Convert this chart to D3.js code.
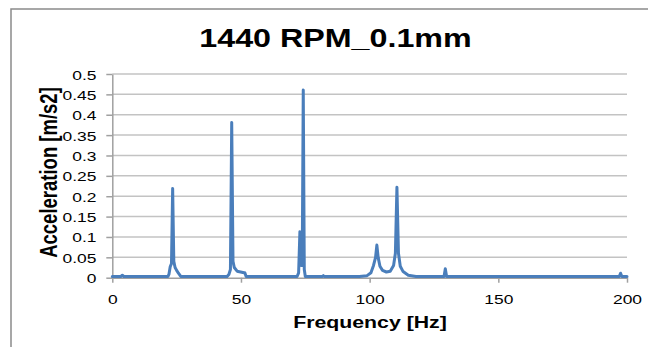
<!DOCTYPE html>
<html>
<head>
<meta charset="utf-8">
<script src="https://cdn.jsdelivr.net/npm/d3@7"></script>
<style>
  body { margin: 0; background: #fff; }
  text { font-family: "Liberation Sans", Arial, sans-serif; fill: #000; }
</style>
</head>
<body>
<div id="chart"></div>
<script>
// values
var titleText = "1440 RPM_0.1mm";
var xLabel = "Frequency [Hz]";
var yLabel = "Acceleration [m/s2]";

var xTicks = [0, 50, 100, 150, 200];
var xTickLabels = ["0", "50", "100", "150", "200"];
var yTicks = [0, 0.05, 0.1, 0.15, 0.2, 0.25, 0.3, 0.35, 0.4, 0.45, 0.5];
var yTickLabels = ["0", "0.05", "0.1", "0.15", "0.2", "0.25", "0.3", "0.35", "0.4", "0.45", "0.5"];

var freq = [0, 3.3, 3.9, 4.5, 21.6, 22.0, 22.5, 23.0, 23.45, 23.9, 24.4, 25.0, 25.7, 26.6,
  44.6, 45.3, 45.9, 46.4, 46.9, 47.4, 48.5, 51.2, 51.5, 52.0,
  71.8, 72.4, 72.9, 73.3, 73.8, 74.2, 74.6, 75.0, 81.7, 82.0, 82.3,
  96.0, 99.0, 100.5, 101.5, 102.3, 102.8, 103.3, 104.0, 105.0, 106.5, 108.0, 109.3, 110.0, 110.6,
  111.2, 111.9, 113.0, 115.0, 118.0, 128.9, 129.4, 129.9, 197.0, 197.5, 198.0, 200];
var accel = [0.003, 0.003, 0.006, 0.003, 0.003, 0.008, 0.027, 0.035, 0.219, 0.04, 0.025, 0.018, 0.011, 0.003,
  0.003, 0.008, 0.02, 0.381, 0.04, 0.025, 0.016, 0.012, 0.012, 0.003,
  0.003, 0.012, 0.113, 0.03, 0.03, 0.461, 0.02, 0.003, 0.003, 0.005, 0.003,
  0.003, 0.005, 0.012, 0.03, 0.05, 0.08, 0.05, 0.028, 0.018, 0.014, 0.016, 0.03, 0.06, 0.222,
  0.06, 0.028, 0.015, 0.006, 0.003, 0.003, 0.022, 0.003, 0.003, 0.011, 0.003, 0.003];

var W = 648, H = 347;
var stretch = 1.29; // the source picture is widened, text too

var svg = d3.select("#chart").append("svg")
  .attr("width", W).attr("height", H);

// outer chart border (only top and left are inside the picture)
svg.append("rect")
  .attr("x", 11).attr("y", 9)
  .attr("width", 700).attr("height", 400)
  .attr("fill", "#fff")
  .attr("stroke", "#8a8a8a")
  .attr("stroke-width", 1.5);

var x = d3.scaleLinear().domain([0, 200]).range([112.3, 627]);
var y = d3.scaleLinear().domain([0, 0.5]).range([277.7, 74]);

// gridlines
svg.append("g").selectAll("line")
  .data(yTicks.slice(1))
  .enter().append("line")
  .attr("x1", x(0)).attr("x2", x(200))
  .attr("y1", function(d) { return y(d); })
  .attr("y2", function(d) { return y(d); })
  .attr("stroke", "#c3c3c3")
  .attr("stroke-width", 1.5);

// y axis
var yAxis = svg.append("g")
  .attr("transform", "translate(" + x(0) + ",0)")
  .call(d3.axisLeft(y).tickValues(yTicks).tickSize(6).tickSizeOuter(0)
    .tickFormat(function(d, i) { return yTickLabels[i]; }));
yAxis.select(".domain").attr("stroke", "#a0a0a0").attr("stroke-width", 1.5);
yAxis.selectAll(".tick line").attr("stroke", "#a0a0a0").attr("stroke-width", 1.5);
yAxis.selectAll(".tick text")
  .attr("x", null).attr("dy", null)
  .attr("transform", "translate(-15.8,5) scale(" + stretch + ",1)")
  .style("font-size", "13.5px")
  .style("font-family", "Liberation Sans, Arial, sans-serif")
  .attr("fill", "#000");

// x axis
var xAxis = svg.append("g")
  .attr("transform", "translate(0," + y(0) + ")")
  .call(d3.axisBottom(x).tickValues(xTicks).tickSize(5).tickSizeOuter(0)
    .tickFormat(function(d, i) { return xTickLabels[i]; }));
xAxis.select(".domain").attr("stroke", "#a0a0a0").attr("stroke-width", 1.5);
xAxis.selectAll(".tick line").attr("stroke", "#a0a0a0").attr("stroke-width", 1.5);
xAxis.selectAll(".tick text")
  .attr("y", null).attr("dy", null)
  .attr("transform", "translate(0,26.3) scale(" + stretch + ",1)")
  .style("font-size", "13.5px")
  .style("font-family", "Liberation Sans, Arial, sans-serif")
  .attr("fill", "#000");

// spectrum line
var pts = freq.map(function(f, i) { return [f, accel[i]]; });
var line = d3.line()
  .x(function(d) { return x(d[0]); })
  .y(function(d) { return y(d[1]); });

svg.append("path")
  .datum(pts)
  .attr("d", line)
  .attr("fill", "none")
  .attr("stroke", "#4a7ebb")
  .attr("stroke-width", 3)
  .attr("stroke-linejoin", "round")
  .attr("stroke-linecap", "round");

// title
svg.append("text")
  .attr("transform", "translate(335.5,47.3) scale(" + stretch + ",1)")
  .attr("text-anchor", "middle")
  .style("font-size", "25px")
  .style("font-weight", "bold")
  .text(titleText);

// axis titles
svg.append("text")
  .attr("transform", "translate(370,328.3) scale(" + stretch + ",1)")
  .attr("text-anchor", "middle")
  .style("font-size", "16.5px")
  .style("font-weight", "bold")
  .text(xLabel);

svg.append("text")
  .attr("transform", "translate(57,172.5) scale(" + stretch + ",1) rotate(-90)")
  .attr("text-anchor", "middle")
  .style("font-size", "18.5px")
  .style("font-weight", "bold")
  .text(yLabel);
</script>
</body>
</html>
